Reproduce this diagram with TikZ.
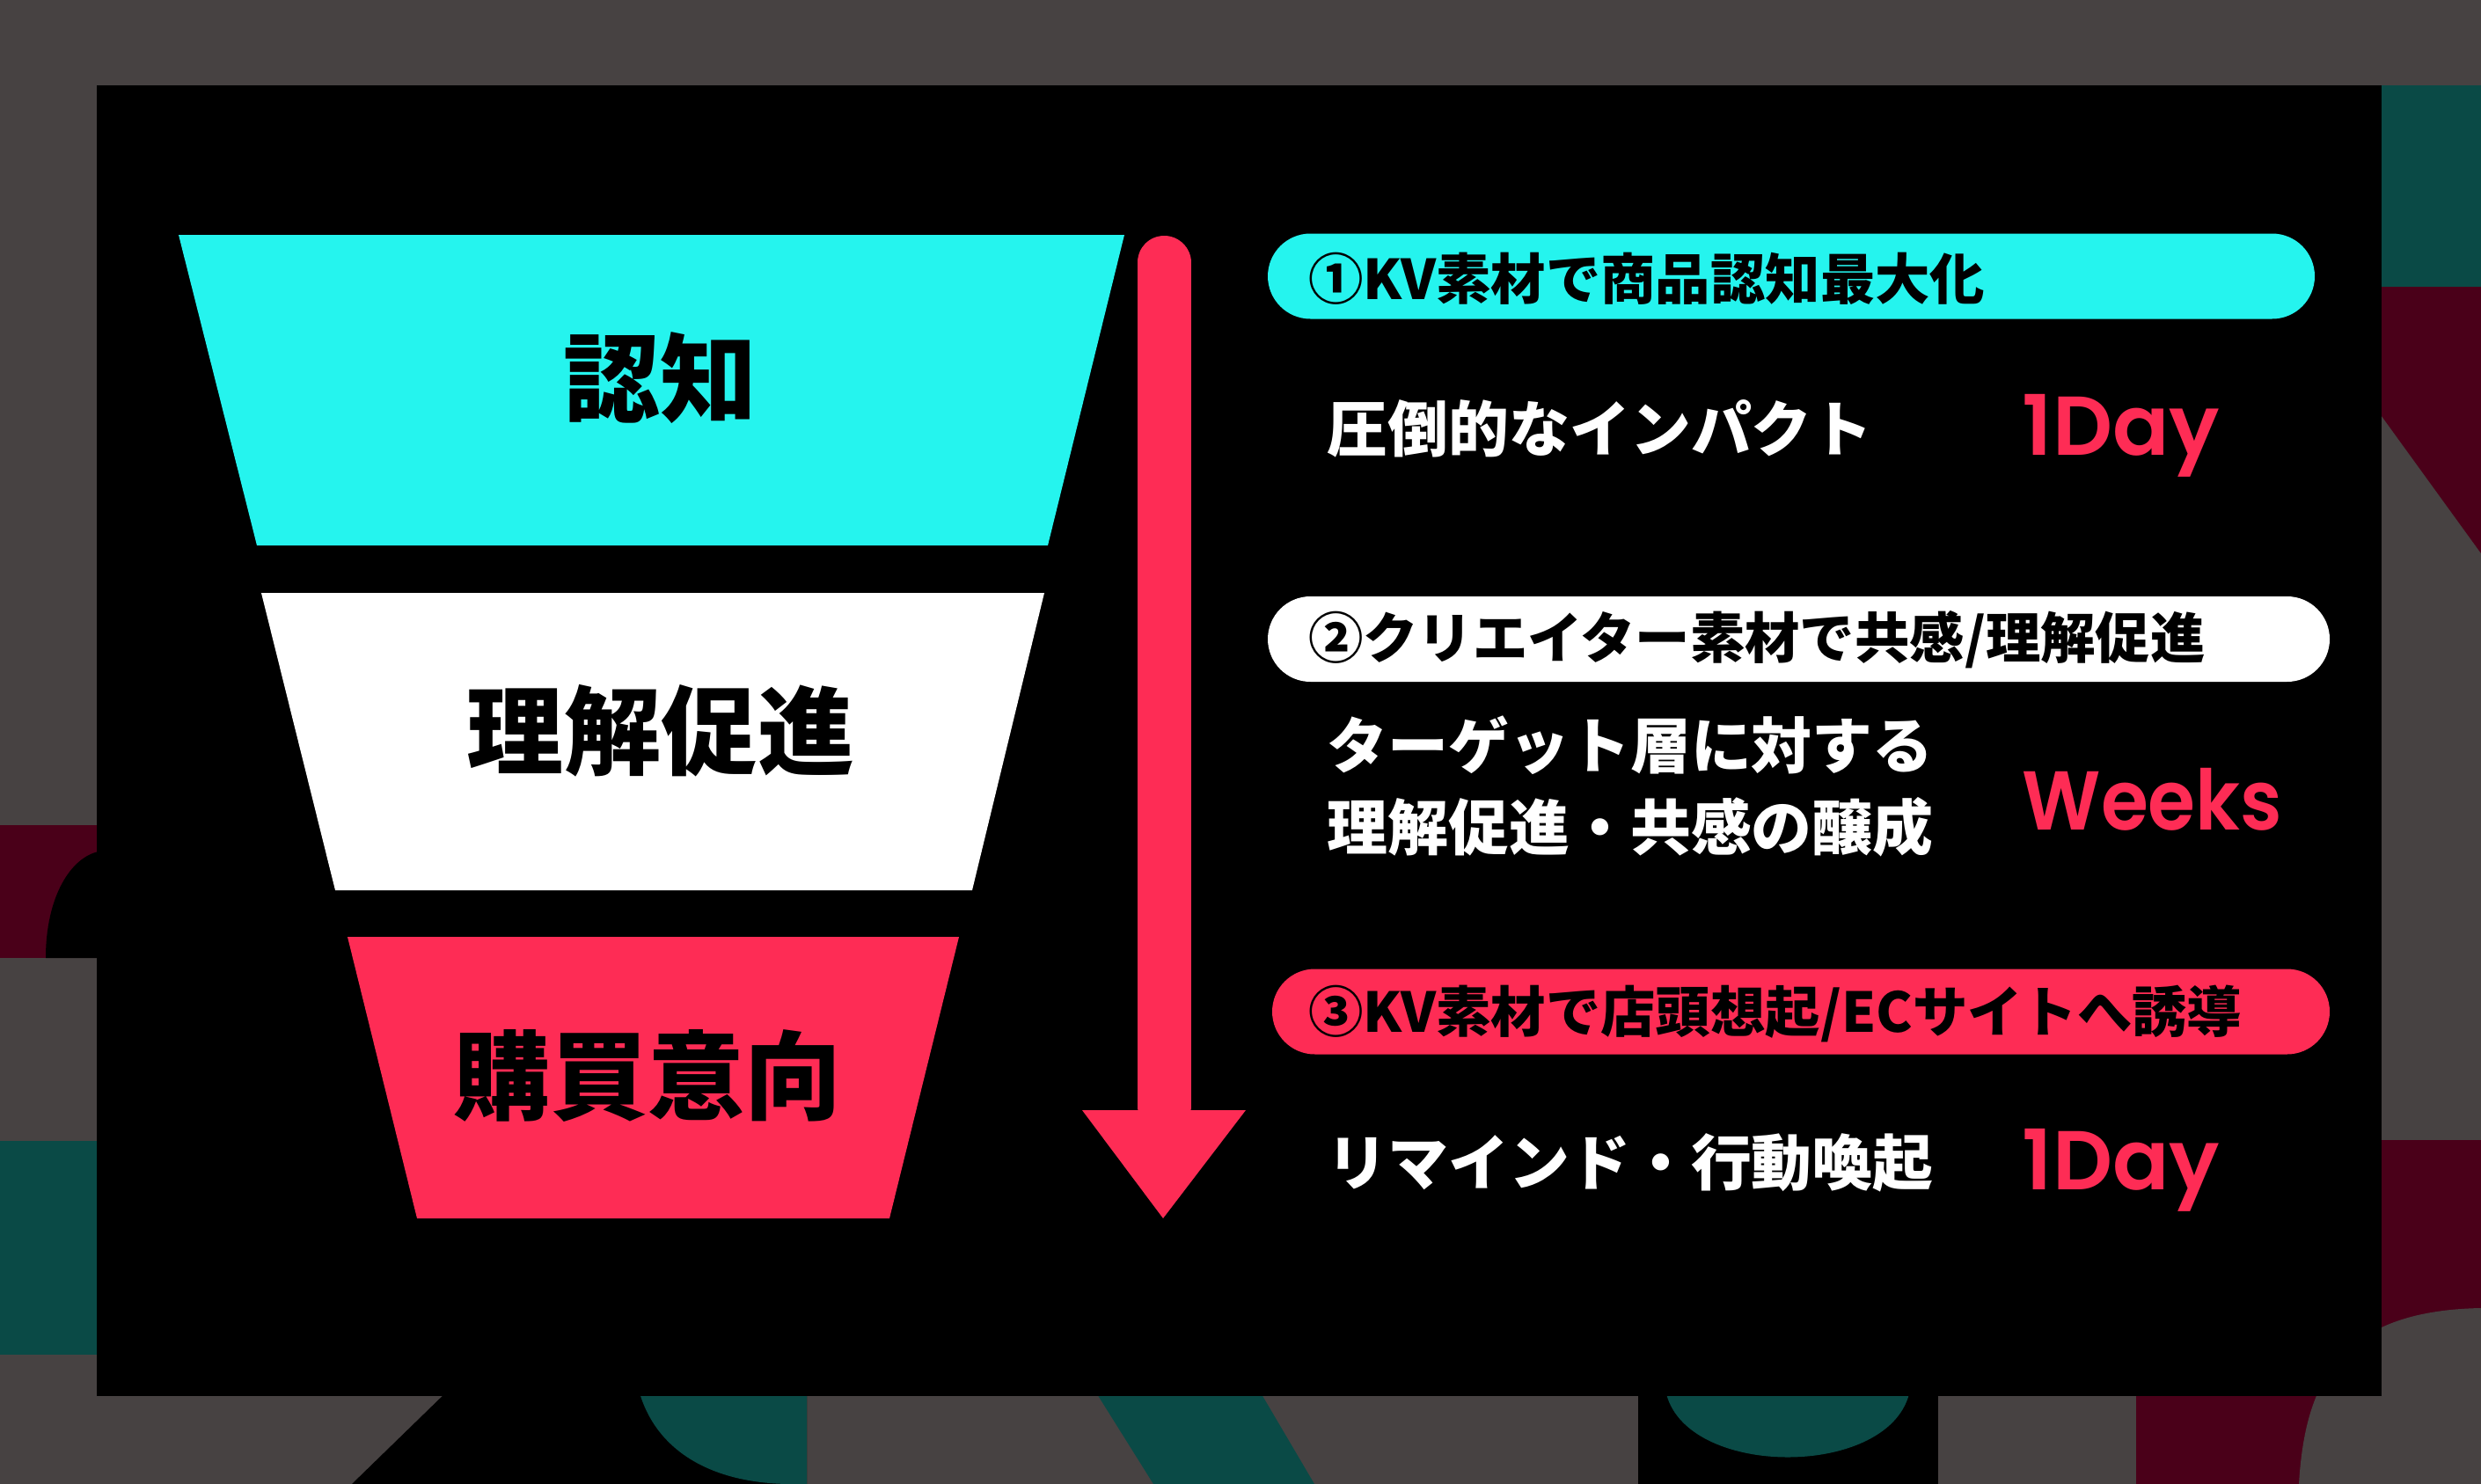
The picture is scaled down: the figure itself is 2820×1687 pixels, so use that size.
\documentclass[tikz,border=0pt]{standalone}
\usepackage{fontspec}
\usetikzlibrary{calc}
\newfontfamily\jp{Noto Sans CJK JP}[UprightFont={* Black}]
\newfontfamily\pop{Poppins}[UprightFont={* SemiBold}]
\definecolor{ttgray}{HTML}{474242}
\definecolor{ttdred}{HTML}{4A0019}
\definecolor{ttteal}{HTML}{0A4A46}
\definecolor{ttcyan}{HTML}{25F4EE}
\definecolor{ttred}{HTML}{FE2C55}
\tikzset{
  funnellabel/.style={font=\jp\fontsize{31.3pt}{36pt}\selectfont, text=black, inner sep=0},
  pill/.style={minimum height=9.7mm, rounded corners=4.85mm, inner sep=0, draw=none},
  pilltext/.style={font=\jp\fontsize{17.75pt}{21pt}\selectfont, text=black, inner sep=0, anchor=west},
  bodytext/.style={font=\jp\fontsize{19.6pt}{26.5pt}\selectfont, text=white, inner sep=0, anchor=west, align=left},
  duration/.style={font=\pop\fontsize{27pt}{32pt}\selectfont, text=ttred, inner sep=0, anchor=base west},
}
\begin{document}
\begin{tikzpicture}[x=0.1mm,y=-0.1mm]
\useasboundingbox (0,0) rectangle (2820,1687);
\begin{scope}
\clip (0,0) rectangle (2820,1687);
% background
\fill[ttgray] (0,0) rectangle (2820,1687);
% left column
\fill[ttdred] (0,938) rectangle (112,1089);
\fill[black] (52,1089) .. controls (52,1020) and (80,975) .. (112,968) -- (112,1089) -- cycle;
\fill[ttteal] (0,1297) rectangle (112,1540);
% right column
\fill[ttteal] (2700,97) rectangle (2820,326);
\fill[ttdred] (2700,326) -- (2820,326) -- (2820,629) -- (2707,473) -- (2700,473) -- cycle;
\fill[ttdred] (2428,1296) rectangle (2820,1687);
\fill[ttgray] (2613,1687) .. controls (2620,1570) and (2660,1490) .. (2820,1487) -- (2820,1687) -- cycle;
% bottom band
\fill[black] (510,1580) -- (400,1687) -- (917,1687) -- (917,1580) -- cycle;
\fill[ttteal] (726,1580) .. controls (745,1650) and (810,1687) .. (900,1687) -- (917,1687) -- (917,1580) -- cycle;
\fill[ttteal] (1244,1580) -- (1431,1580) -- (1494,1687) -- (1311,1687) -- cycle;
\fill[black] (1862,1580) rectangle (2203,1687);
\fill[ttteal] (1893,1580) .. controls (1912,1682) and (2152,1682) .. (2171,1580) -- cycle;
% black panel
\fill[black] (110,97) rectangle (2707,1587);
\end{scope}

% funnel
\fill[ttcyan] (203,267) -- (1278,267) -- (1191,620) -- (292,620) -- cycle;
\fill[white] (297,674) -- (1187,674) -- (1105,1012) -- (381,1012) -- cycle;
\fill[ttred] (395,1065) -- (1090,1065) -- (1011,1385) -- (474,1385) -- cycle;
\node[funnellabel] (f1) at (750,430) {認知};
\node[funnellabel] (f2) at (751,831) {理解促進};
\node[funnellabel] (f3) at (736,1223) {購買意向};

% arrow
\coordinate (atop) at (1323,298.5);
\coordinate (abot) at (1323,1265);
\coordinate (atip) at (1322,1385);
\draw[ttred, line width=6.1mm, line cap=round] (atop) -- ($(abot)-(0,8)$);
\fill[ttred] ($(abot)+(-93,-3)$) -- ($(abot)+(93,-3)$) -- (atip) -- cycle;

% pills
\node[pill, fill=ttcyan, minimum width=119.0mm] (p1) at (2036,314) {};
\node[pill, fill=white, minimum width=120.7mm] (p2) at (2044.5,726.5) {};
\node[pill, fill=ttred, minimum width=120.2mm] (p3) at (2047,1150) {};
\node[pilltext] (t1) at ($(p1.west)+(46,3)$) {①KV素材で商品認知最大化};
\node[pilltext] (t2) at ($(p2.west)+(46,1)$) {②クリエイター素材で共感/理解促進};
\node[pilltext] (t3) at ($(p3.west)+(41,2)$) {③KV素材で店頭想起/ECサイトへ誘導};

% body texts
\node[bodytext] (b1) at (1508,487) {圧倒的なインパクト};
\node[bodytext] (b2) at (1508,893.5) {ターゲット層に対する\\理解促進・共感の醸成};
\node[bodytext] (b3) at (1508,1322) {リマインド・行動喚起};
\node[duration] (d1) at (2298,517) {1Day};
\node[duration] (d2) at (2298,943) {\scalebox{0.92}[1]{Weeks}};
\node[duration] (d3) at (2298,1352) {1Day};
\end{tikzpicture}
\end{document}
